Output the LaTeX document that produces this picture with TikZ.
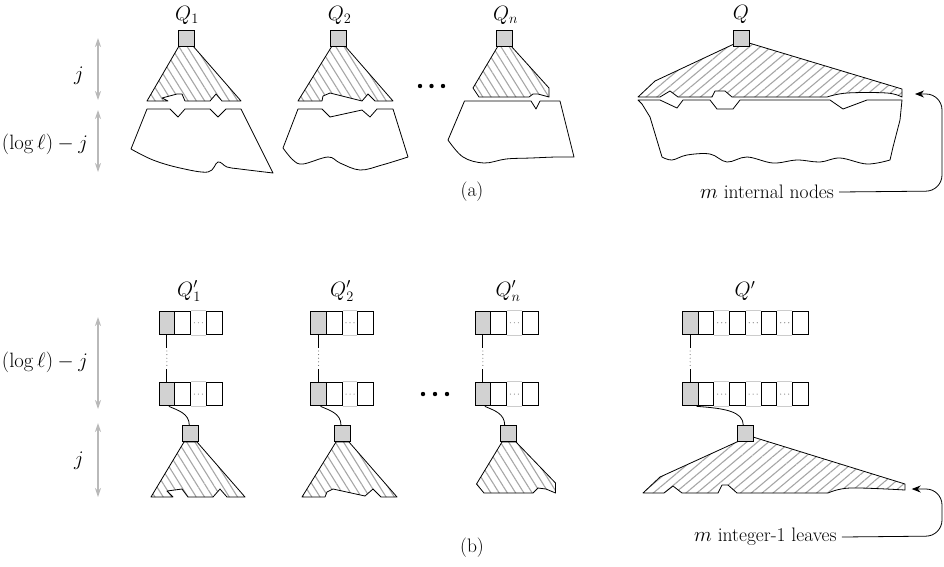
\documentclass[tikz,border=0pt]{standalone}
\usetikzlibrary{patterns.meta,arrows.meta,calc}

% one row of slots: grey slot, white slot, gap, white slot
\newcommand{\smallrow}[3]{%
  \node[graycell] (#1g) at (#2+7.875,#3) {};
  \node[whitecell] (#1w) at (#2+23.625,#3) {};
  \node[whitecell] (#1l) at (#2+55.125,#3) {};
  \draw[gapline] (#1w.north east) -- (#1l.north west) (#1w.south east) -- (#1l.south west);
  \foreach \d in {-4,0,4} \fill[gray] ($(#1w.east)!.5!(#1l.west)+(\d,0)$) circle[radius=0.6pt];
}
% a longer row: grey slot, then four white slots separated by gaps
\newcommand{\widerow}[3]{%
  \node[graycell] (#1g) at (#2+7.875,#3) {};
  \node[whitecell] (#1a) at (#2+23.625,#3) {};
  \node[whitecell] (#1b) at (#2+55.125,#3) {};
  \node[whitecell] (#1c) at (#2+86.625,#3) {};
  \node[whitecell] (#1d) at (#2+118.125,#3) {};
  \foreach \u/\v in {#1a/#1b,#1b/#1c,#1c/#1d}{
    \draw[gapline] (\u.north east) -- (\v.north west) (\u.south east) -- (\v.south west);
    \foreach \d in {-4,0,4} \fill[gray] ($(\u.east)!.5!(\v.west)+(\d,0)$) circle[radius=0.6pt];
  }
}
% vertical chain between the grey slots of two rows
\newcommand{\rowlink}[2]{%
  \draw[link] (#1.south) -- ++(0,12.5);
  \draw[gray!80!black, line width=1.1pt, line cap=round, dash pattern=on 0pt off 3.6pt]
    ($(#1.south)+(0,16)$) -- ($(#2.north)+(0,-14)$);
  \draw[link] (#2.north) -- ++(0,-12.5);
}

\begin{document}
\begin{tikzpicture}[x=1pt,y=-1pt,
  lbl/.style={font=\fontsize{19.5}{23}\selectfont, inner sep=0pt},
  outline/.style={draw, line width=0.8pt, line join=round},
  hatchsteep/.style={outline, pattern={Lines[angle=-58,distance=7pt,line width=1.1pt]}, pattern color=gray!70},
  hatchflat/.style={outline, pattern={Lines[angle=40,distance=7pt,line width=1.1pt]}, pattern color=gray!70},
  lowerpart/.style={outline, fill=white},
  rootbox/.style={draw, fill=gray!35, line width=0.8pt, minimum width=16pt, minimum height=16pt, inner sep=0pt},
  cell/.style={draw, line width=1pt, minimum width=15.75pt, minimum height=23.5pt, inner sep=0pt},
  graycell/.style={cell, fill=gray!35},
  whitecell/.style={cell, fill=white},
  gapline/.style={gray!40, line width=1pt},
  span/.style={gray!55, line width=1.1pt, {Stealth[length=9pt,width=6pt]}-{Stealth[length=9pt,width=6pt]}},
  pointer/.style={line width=0.8pt, -{Stealth[length=9pt,width=7pt]}, rounded corners=16pt},
  link/.style={line width=0.8pt},
]
\useasboundingbox (0,0) rectangle (944,566);

% ---------------- (a) ----------------
% height markers
\coordinate (sa1) at (98,38);  \coordinate (sa2) at (98,100);
\coordinate (sa3) at (98,110); \coordinate (sa4) at (98,172);
\draw[span] (sa1) -- (sa2);
\draw[span] (sa3) -- (sa4);
\node[lbl] (ja) at (79,76) {$j$};
\node[lbl] (la) at (45,144) {$(\log\ell)-j$};

% Q_1
\path[hatchsteep] (179,46) -- (147,101) -- (168,101) -- (162,98) -- (177,94) -- (182,94) -- (185,101)
  -- (210,101) -- (216,94) -- (222,101) -- (241,101) -- (193,46) -- cycle;
\path[lowerpart] (147,109) -- (170,109) -- (178,117) -- (185,109) -- (210,109) -- (218,117) -- (226,109)
  -- (241,109) -- (273,173)
  -- plot[smooth, tension=0.6] coordinates {(273,173) (240,169) (227,167) (218,162) (208,172) (180,168) (153,160) (131,149)}
  -- cycle;
\node[rootbox] (a1) at (186,38) {};
\node[lbl] (qa1) at (187,15) {$Q_1$};

% Q_2
\path[hatchsteep] (332,46) -- (298,101) -- (322,101) -- (323,96) -- (330,93) -- (362,101) -- (368,94)
  -- (375,101) -- (393,101) -- (345,46) -- cycle;
\path[lowerpart] (298,109) -- (322,109) -- (330,117) -- (362,110) -- (370,117) -- (377,109) -- (393,109)
  -- (408,157)
  -- plot[smooth, tension=0.6] coordinates {(408,157) (382,165) (360,170) (340,163) (328,157) (303,164) (293,160) (283,148)}
  -- cycle;
\node[rootbox] (a2) at (338.7,38) {};
\node[lbl] (qa2) at (339.7,15) {$Q_2$};

% dots between Q_2 and Q_n
\foreach \x [count=\i] in {420,431.5,443} \fill (\x,86) circle[radius=2.2pt] coordinate (da\i);

% Q_n
\path[hatchsteep] (498,46) -- (473,88) -- (479,97) -- (529,97) -- (533,94) -- (538,94) -- (549,97)
  -- (549,88) -- (511,46) -- cycle;
\path[lowerpart] (464.5,101) -- (531,101) -- (536,109) -- (540,101) -- (560,101) -- (574,157)
  -- plot[smooth, tension=0.6] coordinates {(574,157) (556,157) (531,158) (506,159) (484,163) (463,157) (448,140)}
  -- cycle;
\node[rootbox] (an) at (504.5,38) {};
\node[lbl] (qan) at (505.5,15) {$Q_n$};

% Q
\path[hatchflat] (734,44) -- (655,81) -- (638,97) -- (660,97) -- (670,91) -- (678,97) -- (712,97)
  -- (715,91) -- (725,91) -- (732,97) -- (827,97)
  -- plot[smooth, tension=0.6] coordinates {(827,97) (847,93) (887,93) (902,97)}
  -- (902,89) -- (749,43) -- cycle;
\path[lowerpart] (638,100) -- (660,100) -- (677,108) -- (683,100) -- (710,100) -- (717,109) -- (733,109)
  -- (740,100) -- (830,100) -- (843,109) -- (867,100) -- (902,100) -- (900,120) -- (893,147) -- (890,160)
  -- plot[smooth, tension=0.6] coordinates {(890,160) (867,164) (840,158) (820,162) (797,160) (773,163) (747,157) (727,162) (710,154) (687,155) (672,160) (662,157)}
  -- (650,117) -- (642,104) -- cycle;
\node[rootbox] (aq) at (741,38) {};
\node[lbl] (qaq) at (741,14) {$Q$};

\node[lbl, anchor=west] (mi) at (700,192) {$m$ internal nodes};
\coordinate (ta) at (915,94);
\draw[pointer] ([xshift=5pt]mi.east) -- (942,191) -- (942,94) -- (ta);

\node[lbl] (capa) at (472,192) {(a)};

% ---------------- (b) ----------------
\coordinate (sb1) at (98,317); \coordinate (sb2) at (98,409);
\coordinate (sb3) at (98,423); \coordinate (sb4) at (98,497);
\draw[span] (sb1) -- (sb2);
\draw[span] (sb3) -- (sb4);
\node[lbl] (lb) at (45,362) {$(\log\ell)-j$};
\node[lbl] (jb) at (79,461) {$j$};

% hatched trees under the roots
\path[hatchsteep] (184,442) -- (151,497) -- (173,497) -- (167,491) -- (182,489) -- (188,497) -- (213,497)
  -- (220,489) -- (227,497) -- (245,497) -- (197,442) -- cycle;
\path[hatchsteep] (336,442) -- (302,497) -- (325,497) -- (327,492) -- (333,489) -- (365,496) -- (373,489)
  -- (381,497) -- (397,497) -- (349,442) -- cycle;
\path[hatchsteep] (502,442) -- (476.5,484) -- (484,493) -- (533,493) -- (538,488) -- (546,489)
  -- (555.5,493) -- (555.5,483) -- (516,442) -- cycle;
\path[hatchflat] (739,441) -- (660,477) -- (643,493) -- (664,493) -- (673,486) -- (682,493) -- (718,493)
  -- (722,485) -- (728,485) -- (737,493) -- (828,493)
  -- plot[smooth, tension=0.6] coordinates {(828,493) (850,488) (905,490)}
  -- (905,484) -- (753,437) -- cycle;

% slot rows
\smallrow{p1}{159}{322.75}   \smallrow{s1}{159}{394.1}
\smallrow{p2}{310.7}{322.75} \smallrow{s2}{310.7}{394.1}
\smallrow{pn}{475}{322.75}   \smallrow{sn}{475}{394.1}
\widerow{pq}{682.3}{322.75}  \widerow{sq}{682.3}{394.1}
\rowlink{p1g}{s1g}
\rowlink{p2g}{s2g}
\rowlink{png}{sng}
\rowlink{pqg}{sqg}

% roots
\node[rootbox] (r1) at (190.3,433.7) {};
\node[rootbox] (r2) at (342,433.7) {};
\node[rootbox] (rn) at (508.7,433.7) {};
\node[rootbox] (rq) at (745.7,433.7) {};

\draw[link] ([xshift=2pt]s1g.south) .. controls +(9,4) and +(0,-12) .. ([xshift=-1pt]r1.north);
\draw[link] ([xshift=2pt]s2g.south) .. controls +(9,4) and +(0,-12) .. ([xshift=-1pt]r2.north);
\draw[link] ([xshift=2pt]sng.south) .. controls +(9,4) and +(0,-12) .. ([xshift=-4pt]rn.north);
\draw[link] ([xshift=6.5pt]sqg.south) .. controls +(28,2) and +(0,-14) .. ([xshift=-2.4pt]rq.north);

\node[lbl] (qb1) at (189,291) {$Q'_1$};
\node[lbl] (qb2) at (342,291) {$Q'_2$};
\node[lbl] (qbn) at (508,291) {$Q'_n$};
\node[lbl] (qbq) at (745,291) {$Q'$};

% dots between Q'_2 and Q'_n
\foreach \x [count=\i] in {423,435,447} \fill (\x,394) circle[radius=2.2pt] coordinate (db\i);

\node[lbl, anchor=west] (ml) at (694,537) {$m$ integer-1 leaves};
\coordinate (tb) at (911.7,489);
\draw[pointer] ([xshift=5pt]ml.east) -- (942,536) -- (942,489) -- (tb);

\node[lbl] (capb) at (472,548) {(b)};
\end{tikzpicture}
\end{document}
